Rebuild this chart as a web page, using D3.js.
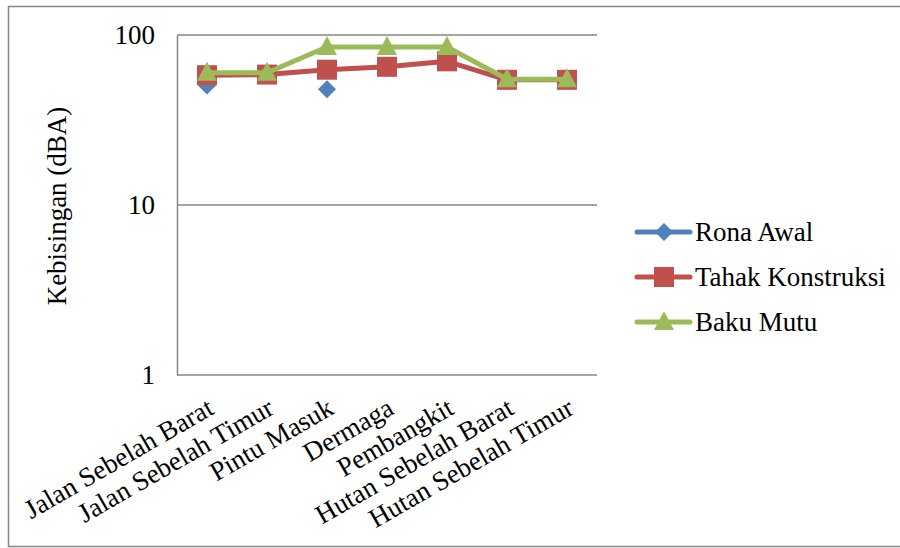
<!DOCTYPE html>
<html><head><meta charset="utf-8">
<script src="https://cdn.jsdelivr.net/npm/d3@7"></script>
<style>body{margin:0;background:#fff}svg{display:block}</style>
</head><body>
<svg id="c" width="900" height="548"></svg>
<script>
const categories = ["Jalan Sebelah Barat","Jalan Sebelah Timur","Pintu Masuk","Dermaga","Pembangkit","Hutan Sebelah Barat","Hutan Sebelah Timur"];
const ronaAwal = [50.5, null, 48, null, null, null, null];
const tahakKonstruksi = [58, 58.5, 62.5, 65, 70, 54.5, 54.5];
const bakuMutu = [60, 60, 85, 85, 85, 55, 55];
const yTicks = [1, 10, 100];
const seriesNames = ["Rona Awal","Tahak Konstruksi","Baku Mutu"];
const seriesColors = ["#4F81BD","#C0504D","#9BBB59"];
const seriesShapes = ["diamond","square","triangle"];
const FONT = "Liberation Serif";
const FS = 27;

const svg = d3.select("#c");
svg.append("rect").attr("x",8.5).attr("y",6.5).attr("width",900).attr("height",540)
  .attr("fill","#fff").attr("stroke","#868686").attr("stroke-width",1.5);

const L=177,R=597,T=35,B=375;
const x = d3.scalePoint().domain(categories).range([L,R]).padding(0.5);
const y = d3.scaleLog().domain([1,100]).range([B,T]);

svg.append("g").selectAll("line").data(yTicks.slice(1)).join("line")
  .attr("x1",L).attr("x2",R).attr("y1",d=>y(d)).attr("y2",d=>y(d))
  .attr("stroke","#868686").attr("stroke-width",1.5);

const ya = svg.append("g").attr("transform",`translate(${L},0)`)
  .call(d3.axisLeft(y).tickValues(yTicks).tickFormat(d3.format("d")).tickSize(0).tickPadding(22));
ya.attr("font-family",FONT).attr("font-size",FS);
ya.select(".domain").attr("stroke","#868686").attr("stroke-width",1.5);
ya.selectAll("text").attr("fill","#000");

const xa = svg.append("g").attr("transform",`translate(0,${B})`)
  .call(d3.axisBottom(x).tickSize(0).tickFormat(d=>d));
xa.attr("font-family",FONT).attr("font-size",FS);
xa.select(".domain").attr("stroke","#868686").attr("stroke-width",1.5).attr("d",`M${L},0H${R}`);
xa.selectAll("text").attr("fill","#000")
  .attr("text-anchor","end").attr("dy",0).attr("y",0)
  .attr("transform","translate(8,38) rotate(-30)");

svg.append("text").attr("transform",`translate(66,206) rotate(-90)`)
  .attr("font-family",FONT).attr("text-anchor","middle").attr("font-size",FS).text("Kebisingan (dBA)");

function marker(g, shape, color){
  if(shape==="diamond") g.append("path").attr("d","M0,-9L9,0L0,9L-9,0Z").attr("fill",color);
  else if(shape==="square") g.append("rect").attr("x",-10).attr("y",-10).attr("width",20).attr("height",20).attr("fill",color);
  else g.append("path").attr("d","M0,-11L10,8L-10,8Z").attr("fill",color);
}

const allSeries=[ronaAwal,tahakKonstruksi,bakuMutu];
allSeries.forEach((vals,i)=>{
  const pts = vals.map((v,j)=>({c:categories[j],v}));
  const line = d3.line().defined(d=>d.v!=null).x(d=>x(d.c)).y(d=>y(d.v));
  svg.append("path").datum(pts).attr("d",line).attr("fill","none")
    .attr("stroke",seriesColors[i]).attr("stroke-width",5).attr("stroke-linejoin","round");
  pts.filter(d=>d.v!=null).forEach(d=>{
    const g=svg.append("g").attr("transform",`translate(${x(d.c)},${y(d.v)})`);
    marker(g,seriesShapes[i],seriesColors[i]);
  });
});

const legY=[232,277,322];
seriesNames.forEach((n,i)=>{
  svg.append("line").attr("x1",637).attr("x2",690).attr("y1",legY[i]).attr("y2",legY[i])
    .attr("stroke",seriesColors[i]).attr("stroke-width",5).attr("stroke-linecap","round");
  const g=svg.append("g").attr("transform",`translate(664,${legY[i]})`);
  marker(g,seriesShapes[i],seriesColors[i]);
  svg.append("text").attr("x",695).attr("y",legY[i]+9).attr("font-family",FONT).attr("font-size",FS).text(n);
});
</script>
</body></html>
